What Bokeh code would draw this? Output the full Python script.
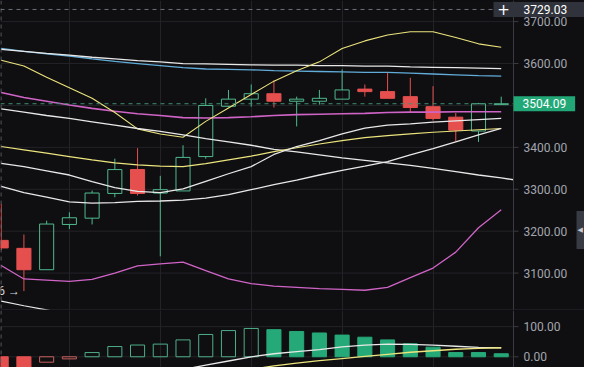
import numpy as np
from bokeh.plotting import figure
from bokeh.layouts import column
from bokeh.models import Range1d, FixedTicker, Span, Label, ColumnDataSource
from bokeh.core.properties import value
from bokeh.embed import file_html
from bokeh.resources import INLINE

nan = float("nan")

# ---------------- data ----------------
candle_idx = list(range(23))
opens  = [3178, 3159, 3108, 3216, 3231, 3290, 3347, 3291, 3296, 3378, 3498, 3515,
          3528, 3510, 3510, 3515, 3539, 3533, 3521, 3497, 3472, 3439, 3502]
highs  = [3265, 3192, 3225, 3245, 3297, 3373, 3398, 3332, 3405, 3517, 3537, 3550,
          3560, 3521, 3537, 3586, 3550, 3579, 3566, 3546, 3482, 3506, 3521]
lows   = [3155, 3057, 3108, 3205, 3216, 3281, 3285, 3140, 3296, 3373, 3496, 3497,
          3495, 3450, 3502, 3515, 3521, 3517, 3482, 3464, 3413, 3413, 3502]
closes = [3160, 3108, 3217, 3232, 3291, 3347, 3290, 3299, 3376, 3500, 3515, 3528,
          3510, 3515, 3517, 3537, 3533, 3517, 3495, 3469, 3441, 3504, 3504.09]

ma_fast_yellow = [3608, 3594, 3567, 3542, 3517, 3483, 3444, 3432, 3424, 3462, 3494, 3526,
                  3558, 3583, 3604, 3636, 3654, 3668, 3676, 3676, 3662, 3647, 3639]
ma_blue        = [3636, 3629, 3623, 3618, 3611, 3605, 3600, 3595, 3590, 3587, 3586, 3585,
                  3583, 3582, 3581, 3580, 3579, 3579, 3577, 3575, 3573, 3571, 3570]
ma_white_top   = [3634, 3629, 3624, 3620, 3615, 3611, 3607, 3604, 3600, 3599, 3598, 3597,
                  3596, 3596, 3595, 3595, 3594, 3594, 3592, 3591, 3590, 3589, 3588]
band_mid_pink  = [3531, 3519, 3510, 3501, 3493, 3486, 3480, 3476, 3471, 3470, 3471, 3473,
                  3476, 3478, 3479, 3480, 3481, 3483, 3484, 3484, 3485, 3485, 3485]
trend_idx      = list(range(24))
trend_white    = [3492, 3484, 3476, 3469, 3461, 3453, 3445, 3438, 3430, 3421, 3413, 3405,
                  3395, 3389, 3382, 3375, 3369, 3363, 3357, 3350, 3342, 3334, 3327, 3319]
ma_slow_yellow = [3402, 3394, 3386, 3378, 3370, 3363, 3358, 3355, 3354, 3361, 3370, 3379,
                  3390, 3399, 3408, 3416, 3423, 3428, 3432, 3436, 3439, 3442, 3445]
ma_white_mid   = [3362, 3354, 3344, 3334, 3318, 3304, 3295, 3292, 3301, 3319, 3337, 3354,
                  3383, 3402, 3416, 3432, 3446, 3453, 3456, 3460, 3463, 3466, 3469]
ma_white_low   = [3307, 3292, 3281, 3270, 3267, 3268, 3271, 3272, 3274, 3279, 3287, 3299,
                  3311, 3322, 3334, 3345, 3355, 3366, 3382, 3397, 3413, 3430, 3445]
band_low_pink  = [3118, 3086, 3083, 3080, 3085, 3100, 3117, 3122, 3126, 3106, 3086, 3075,
                  3069, 3066, 3063, 3061, 3059, 3066, 3089, 3112, 3150, 3208, 3251]
far_idx        = [0, 1, 2, 3]
far_white      = [3033, 3022, 3012, 3002]

hist        = [-45, -50, -18, -7, 14, 34, 39, 42, 56, 74, 87, 94,
               90, 84, 79, 72, 65, 56, 43, 32, 14, 14, 10]
osc_white   = [nan] * 7 + [-55, -42, -28, -14, 0, 10, 17, 24, 33, 39, 42, 41, 39, 35, 31, 30]
osc_yellow  = [nan] * 11 + [-42, -30, -21, -13, -6, 1, 8, 15, 20, 25, 28, 30]

price_ticks = [3100, 3200, 3300, 3400, 3500, 3600, 3700]
osc_ticks = [0, 100]
time_grid_idx = [3, 7, 11, 15, 19]
crosshair_price = 3729.03
crosshair_idx = -0.01
low_marker_idx = 1
low_marker_price = 3057
low_marker_text = "3057.06 →"
tab_price = 3203

# ---------------- style ----------------
BG = "#0f0f12"
GRID = "#232327"
AXIS_LINE = "#3a3a40"
LABEL = "#a3a6ae"
GREEN = "#4fb98d"
GREEN_FILL = "#26a978"
RED = "#e5504f"
YELLOW = "#ece47c"
WHITE = "#e8e8e8"
BLUE = "#62acd9"
PINK = "#d064c6"

W = 584
AXIS_PX = 71                      # width of the price-scale area
PLOT_PX = W - AXIS_PX
x_start, data_end = -0.03, 22.54  # visible index span of the plotting area
px_unit = (data_end - x_start) / PLOT_PX
xr = Range1d(x_start, data_end + AXIS_PX * px_unit)


def base(height, yr, ticks):
    f = figure(width=W, height=height, x_range=xr, y_range=yr,
               x_axis_location=None, y_axis_location=None,
               output_backend="svg", toolbar_location=None,
               min_border_left=0, min_border_right=0, min_border_top=0, min_border_bottom=0,
               background_fill_color=BG, border_fill_color=BG, outline_line_color=None)
    f.xgrid.ticker = FixedTicker(ticks=time_grid_idx)
    f.xgrid.grid_line_color = GRID
    f.ygrid.visible = False
    # horizontal grid only across the plotting area
    f.segment(x0=[x_start] * len(ticks), x1=[data_end] * len(ticks), y0=ticks, y1=ticks,
              line_color=GRID, line_width=1)
    # price scale: axis line, ticks, labels
    f.add_layout(Span(location=data_end, dimension="height", line_color=AXIS_LINE, line_width=1))
    f.segment(x0=[data_end] * len(ticks), x1=[data_end + 5 * px_unit] * len(ticks),
              y0=ticks, y1=ticks, line_color=AXIS_LINE, line_width=1)
    f.text(x=[data_end] * len(ticks), y=ticks, text=[f"{t:.2f}" for t in ticks],
           x_offset=10, text_align="left", text_baseline="middle", text_color=LABEL,
           text_font=value("Roboto"), text_font_size="12px")
    return f


p1 = base(310, Range1d(3010.7, 3750.4), price_ticks)
p2 = base(57, Range1d(-35.6, 153.6), osc_ticks)

# candles
body_top = [max(o, c) for o, c in zip(opens, closes)]
body_bot = [min(o, c) for o, c in zip(opens, closes)]
rising = [c >= o for o, c in zip(opens, closes)]
csrc = ColumnDataSource(dict(
    x=candle_idx, high=highs, low=lows, top=body_top, bottom=body_bot,
    color=[GREEN if r else RED for r in rising],
    fa=[0.0 if r else 1.0 for r in rising]))
p1.segment(x0="x", y0="high", x1="x", y1="top", line_color="color", line_width=1, source=csrc)
p1.segment(x0="x", y0="bottom", x1="x", y1="low", line_color="color", line_width=1, source=csrc)
p1.vbar(x="x", width=0.62, top="top", bottom="bottom", fill_color="color", fill_alpha="fa",
        line_color="color", line_width=1, source=csrc)

# indicator lines
p1.line(candle_idx, ma_blue, line_color=BLUE, line_width=1.3)
p1.line(candle_idx, ma_white_top, line_color=WHITE, line_width=1.3)
p1.line(candle_idx, band_mid_pink, line_color=PINK, line_width=1.6)
p1.line(candle_idx, ma_fast_yellow, line_color=YELLOW, line_width=1.1)
p1.line(trend_idx[:-1] + [data_end], trend_white[:-1] + [
    trend_white[-2] + (trend_white[-1] - trend_white[-2]) * (data_end - trend_idx[-2])],
    line_color=WHITE, line_width=1.3)
p1.line(candle_idx, ma_slow_yellow, line_color=YELLOW, line_width=1.2)
p1.line(candle_idx, ma_white_mid, line_color=WHITE, line_width=1.3)
p1.line(candle_idx, ma_white_low, line_color=WHITE, line_width=1.3)
p1.line(candle_idx, band_low_pink, line_color=PINK, line_width=1.3)
p1.line(far_idx, far_white, line_color=WHITE, line_width=1.2)

# price lines / crosshair (dashed, across the plotting area)
p1.segment(x0=[x_start], x1=[data_end], y0=[crosshair_price], y1=[crosshair_price],
           line_color="#6d7078", line_dash="4 4", line_width=1)
p1.segment(x0=[x_start], x1=[data_end], y0=[closes[-1]], y1=[closes[-1]],
           line_color="#3e8f73", line_dash="4 4", line_width=1)
for f in (p1, p2):
    f.add_layout(Span(location=crosshair_idx, dimension="height", line_color="#6d7078",
                      line_dash="4 4", line_width=1))
p1.add_layout(Span(location=p1.y_range.start, dimension="width", line_color="#2c2c31",
                   line_width=2))

# low marker
p1.text(x=[low_marker_idx], y=[low_marker_price], text=[low_marker_text], x_offset=-4,
        text_align="right", text_baseline="middle", text_color="#d6d8de",
        text_font=value("Roboto"), text_font_size="12px")

# price-scale boxes
p1.add_layout(Label(x=data_end - 20 * px_unit, y=crosshair_price, text="3729.03",
                    text_color="white", text_font="Roboto", text_font_size="12px",
                    text_baseline="middle", text_align="left",
                    background_fill_color="#30333b",
                    padding=dict(left=30, right=20, top=3, bottom=3)))
p1.add_layout(Label(x=data_end - 10 * px_unit, y=crosshair_price, text="+",
                    text_color="white", text_font="DejaVu Sans", text_font_size="15px",
                    text_baseline="middle", text_align="center"))
p1.add_layout(Label(x=data_end, y=closes[-1], text=f"{closes[-1]:.2f}",
                    text_color="white", text_font="Roboto", text_font_size="12px",
                    text_baseline="middle", text_align="left",
                    background_fill_color="#22a877",
                    padding=dict(left=9, right=9, top=3, bottom=3)))
p1.add_layout(Label(x=W - 8, x_units="screen", y=tab_price, text="◀",
                    text_color="#c8cad0", text_font="DejaVu Sans", text_font_size="7px",
                    text_baseline="middle", text_align="left",
                    background_fill_color="#383b44",
                    padding=dict(left=1, right=2, top=15, bottom=15)))

# oscillator panel
prev = [None] + hist[:-1]
hollow = [pv is not None and v > pv for v, pv in zip(hist, prev)]
hsrc = ColumnDataSource(dict(
    x=candle_idx, top=hist,
    color=[GREEN_FILL if v >= 0 else RED for v in hist],
    lc=[("#4fae88" if v >= 0 else "#c85f5d") if h else (GREEN_FILL if v >= 0 else RED)
        for v, h in zip(hist, hollow)],
    fa=[0.0 if h else 1.0 for h in hollow]))
p2.vbar(x="x", width=0.62, top="top", bottom=0, fill_color="color", fill_alpha="fa",
        line_color="lc", line_width=1, source=hsrc)
p2.line(candle_idx, osc_white, line_color=WHITE, line_width=1.3)
p2.line(candle_idx, osc_yellow, line_color=YELLOW, line_width=1.3)

layout = column(p1, p2, spacing=0, styles={"background-color": BG})
open("out.html", "w").write(file_html(layout, INLINE))
